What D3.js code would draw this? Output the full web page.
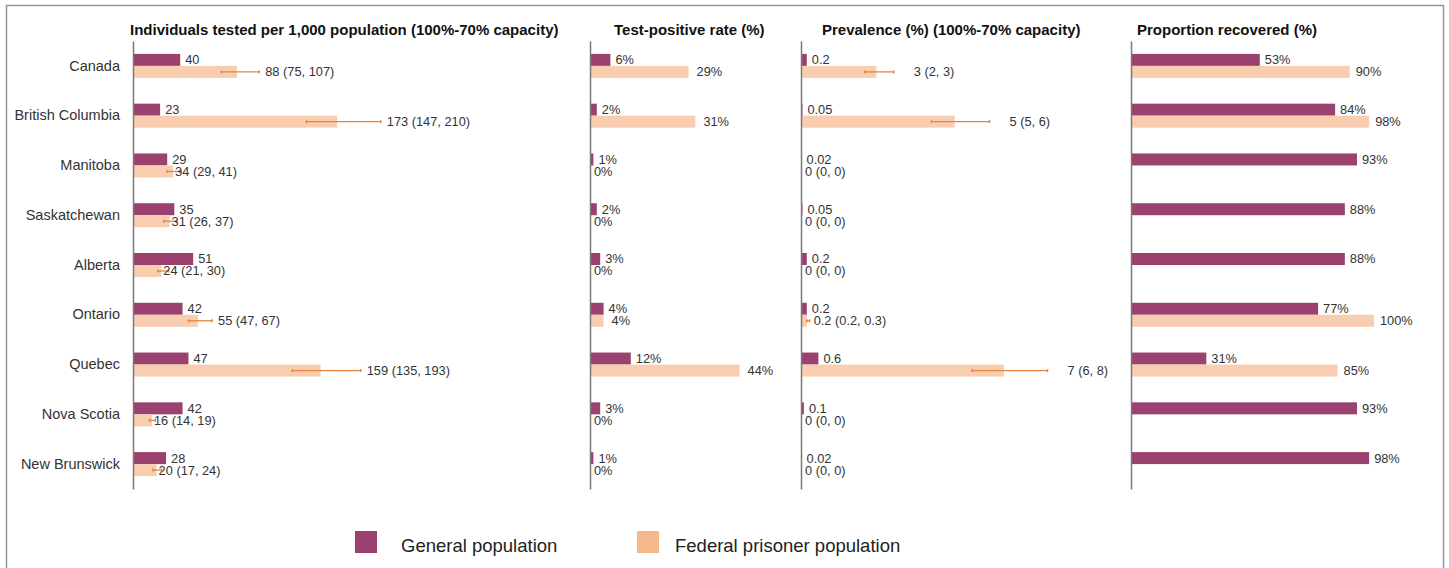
<!DOCTYPE html>
<html>
<head>
<meta charset="utf-8">
<script src="https://cdn.jsdelivr.net/npm/d3@7/dist/d3.min.js"></script>
<style>
  body { margin: 0; background: #fff; }
  svg { display: block; font-family: "Liberation Sans", Arial, sans-serif; }
</style>
</head>
<body>
<div id="chart"></div>
<script>
const categories = ['Canada', 'British Columbia', 'Manitoba', 'Saskatchewan', 'Alberta',
  'Ontario', 'Quebec', 'Nova Scotia', 'New Brunswick'];

// individuals tested per 1,000
const testedGeneral = [40, 23, 29, 35, 51, 42, 47, 42, 28];
const testedPrisoner = [88, 173, 34, 31, 24, 55, 159, 16, 20];
const testedLo = [75, 147, 29, 26, 21, 47, 135, 14, 17];
const testedHi = [107, 210, 41, 37, 30, 67, 193, 19, 24];

// test-positive rate (%)
const positiveGeneral = [6, 2, 1, 2, 3, 4, 12, 3, 1];
const positivePrisoner = [29, 31, 0, 0, 0, 4, 44, 0, 0];

// prevalence (%)
const prevGeneral = [0.2, 0.05, 0.02, 0.05, 0.2, 0.2, 0.6, 0.1, 0.02];
const prevPrisoner = [2.6, 5.3, 0, 0, 0, 0.2, 7.0, 0, 0];
const prevLo = [2.2, 4.5, 0, 0, 0, 0.2, 5.9, 0, 0];
const prevHi = [3.2, 6.5, 0, 0, 0, 0.3, 8.5, 0, 0];
const prevGeneralText = ['0.2', '0.05', '0.02', '0.05', '0.2', '0.2', '0.6', '0.1', '0.02'];
const prevPrisonerText = ['3 (2, 3)', '5 (5, 6)', '0 (0, 0)', '0 (0, 0)', '0 (0, 0)',
  '0.2 (0.2, 0.3)', '7 (6, 8)', '0 (0, 0)', '0 (0, 0)'];

// proportion recovered (%)
const recoveredGeneral = [53, 84, 93, 88, 88, 77, 31, 93, 98];
const recoveredPrisoner = [90, 98, null, null, null, 100, 85, null, null];

const seriesNames = ['General population', 'Federal prisoner population'];

const width = 1449, height = 568;
const generalColor = '#9a416f';
const prisonerColor = '#f9cdaf';
const legendPrisonerColor = '#f5b88b';
const errorColor = '#e8843d';

const svg = d3.select('#chart').append('svg')
  .attr('width', width)
  .attr('height', height);

svg.append('rect')
  .attr('x', 6.5).attr('y', 5.5)
  .attr('width', 1437).attr('height', 620)
  .attr('fill', 'none')
  .attr('stroke', '#8d99a6')
  .attr('stroke-width', 1.5);

const y = d3.scaleBand()
  .domain(categories)
  .range([41, 489]);
const barH = 12;

const pct = v => `${v}%`;

const panels = [
  {
    title: 'Individuals tested per 1,000 population (100%-70% capacity)',
    titleX: 130,
    x: d3.scaleLinear().domain([0, 200]).range([133, 369]),
    general: testedGeneral,
    prisoner: testedPrisoner,
    lo: testedLo,
    hi: testedHi,
    generalText: testedGeneral.map(String),
    prisonerText: testedPrisoner.map((v, i) => `${v} (${testedLo[i]}, ${testedHi[i]})`),
    // short whiskers: label sits next to the bar, long ones: past the whisker
    prisonerLabelX: (x, i) => {
      const xe = x(testedPrisoner[i]), xh = x(testedHi[i]);
      return xh - xe < 12 ? xe + 2 : xh + 6;
    },
    showCategories: true,
  },
  {
    title: 'Test-positive rate (%)',
    titleX: 614,
    x: d3.scaleLinear().domain([0, 50]).range([590, 760]),
    general: positiveGeneral,
    prisoner: positivePrisoner,
    generalText: positiveGeneral.map(pct),
    prisonerText: positivePrisoner.map(pct),
    prisonerLabelX: (x, i) => x(positivePrisoner[i]) + (positivePrisoner[i] > 0 ? 8 : 4),
  },
  {
    title: 'Prevalence (%) (100%-70% capacity)',
    titleX: 822,
    x: d3.scaleLinear().domain([0, 9]).range([801, 1062]),
    general: prevGeneral,
    prisoner: prevPrisoner,
    lo: prevLo,
    hi: prevHi,
    generalText: prevGeneralText,
    prisonerText: prevPrisonerText,
    prisonerLabelX: (x, i) => {
      const xh = x(prevHi[i]);
      return xh + (xh - 801 > 20 ? 20 : 4);
    },
  },
  {
    title: 'Proportion recovered (%)',
    titleX: 1137,
    x: d3.scaleLinear().domain([0, 100]).range([1131, 1374]),
    general: recoveredGeneral,
    prisoner: recoveredPrisoner,
    generalText: recoveredGeneral.map(pct),
    prisonerText: recoveredPrisoner.map(v => v == null ? '' : pct(v)),
    prisonerLabelX: (x, i) => x(recoveredPrisoner[i]) + 6,
  },
];

panels.forEach(p => {
  const g = svg.append('g');
  const x0 = p.x.range()[0];

  g.append('text')
    .attr('x', p.titleX)
    .attr('y', 35)
    .attr('font-size', '15px')
    .attr('font-weight', 'bold')
    .attr('fill', '#111')
    .text(p.title);

  const rows = categories.map((c, i) => ({
    cat: c,
    general: p.general[i],
    prisoner: p.prisoner[i],
    lo: p.lo ? p.lo[i] : null,
    hi: p.hi ? p.hi[i] : null,
    gText: p.generalText[i],
    pText: p.prisonerText[i],
    i,
  }));

  // general population bars
  g.selectAll('.gen')
    .data(rows)
    .enter().append('rect')
      .attr('class', 'gen')
      .attr('x', x0)
      .attr('y', d => y(d.cat) + y.bandwidth() / 2 - barH)
      .attr('width', d => p.x(d.general) - x0)
      .attr('height', barH)
      .attr('fill', generalColor);

  // prisoner bars
  g.selectAll('.pris')
    .data(rows.filter(d => d.prisoner != null))
    .enter().append('rect')
      .attr('class', 'pris')
      .attr('x', x0)
      .attr('y', d => y(d.cat) + y.bandwidth() / 2)
      .attr('width', d => p.x(d.prisoner) - x0)
      .attr('height', barH)
      .attr('fill', prisonerColor);

  // error bars
  if (p.lo) {
    const eb = g.selectAll('.err')
      .data(rows.filter(d => d.hi > 0))
      .enter().append('g')
        .attr('class', 'err')
        .attr('transform', d => `translate(0, ${y(d.cat) + y.bandwidth() / 2 + barH / 2})`);
    eb.append('line')
      .attr('x1', d => p.x(d.lo))
      .attr('x2', d => p.x(d.hi))
      .attr('stroke', errorColor)
      .attr('stroke-width', 1.3);
    eb.selectAll('.cap')
      .data(d => [d.lo, d.hi])
      .enter().append('line')
        .attr('x1', v => p.x(v))
        .attr('x2', v => p.x(v))
        .attr('y1', -1.5)
        .attr('y2', 1.5)
        .attr('stroke', errorColor)
        .attr('stroke-width', 1.5);
  }

  // value labels
  g.selectAll('.gLabel')
    .data(rows)
    .enter().append('text')
      .attr('x', d => p.x(d.general) + 5)
      .attr('y', d => y(d.cat) + y.bandwidth() / 2 - barH / 2)
      .attr('dy', '0.35em')
      .attr('font-size', '12.8px')
      .attr('fill', '#333')
      .text(d => d.gText);

  g.selectAll('.pLabel')
    .data(rows.filter(d => d.prisoner != null))
    .enter().append('text')
      .attr('x', d => p.prisonerLabelX(p.x, d.i))
      .attr('y', d => y(d.cat) + y.bandwidth() / 2 + barH / 2)
      .attr('dy', '0.35em')
      .attr('font-size', '12.8px')
      .attr('fill', '#333')
      .text(d => d.pText);

  // vertical axis
  const axis = d3.axisLeft(y)
    .tickSize(0)
    .tickSizeOuter(0)
    .tickPadding(13);
  const ag = g.append('g')
    .attr('transform', `translate(${x0}, 0)`)
    .call(axis);
  ag.select('.domain')
    .attr('stroke', '#7a7a7a')
    .attr('stroke-width', 1.5);
  ag.selectAll('.tick text')
    .attr('font-size', '14.5px')
    .attr('font-family', '"Liberation Sans", Arial, sans-serif')
    .attr('fill', '#333')
    .style('display', p.showCategories ? null : 'none');
});

// legend
const legend = svg.append('g')
  .selectAll('g')
  .data(seriesNames)
  .enter().append('g')
    .attr('transform', (d, i) => `translate(${i === 0 ? 355 : 637}, 531)`);

legend.append('rect')
  .attr('width', 22)
  .attr('height', 22)
  .attr('fill', (d, i) => i === 0 ? generalColor : legendPrisonerColor);

legend.append('text')
  .attr('x', (d, i) => i === 0 ? 46 : 38)
  .attr('y', 21)
  .attr('font-size', '18.5px')
  .attr('fill', '#222')
  .text(d => d);
</script>
</body>
</html>
